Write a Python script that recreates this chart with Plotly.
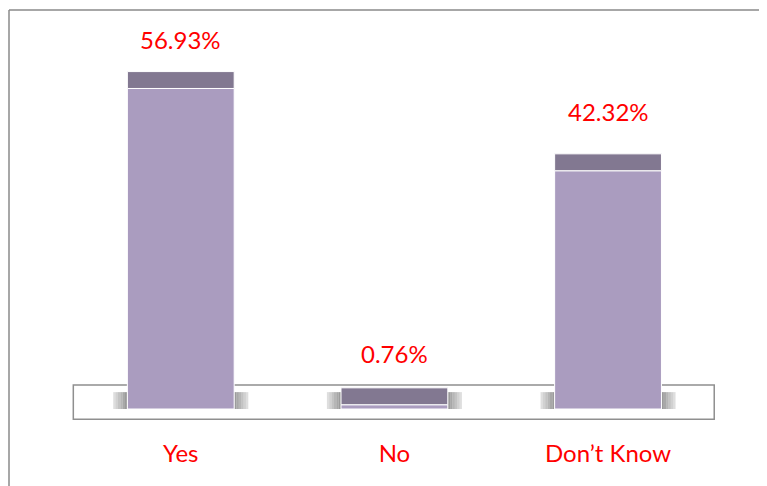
import plotly.graph_objects as go

categories = ["Yes", "No", "Don’t Know"]
values = [56.93, 0.76, 42.32]
labels = ["56.93%", "0.76%", "42.32%"]

CAP = 3.0          # depth of the 3D top face, in axis units
BODY = "#AA9CBF"
TOP = "#827891"
RED = "#FF0000"
FONT = "Lato"

xs = list(range(len(categories)))
W = 0.5

fig = go.Figure()
fig.add_trace(go.Bar(x=xs, y=values, width=W, marker=dict(color=BODY, line=dict(color="white", width=1)),
                     hoverinfo="skip"))
fig.add_trace(go.Bar(x=xs, y=[CAP] * len(values), base=values, width=W,
                     marker=dict(color=TOP, line=dict(color="white", width=1)), hoverinfo="skip"))

shapes = []
# floor
shapes.append(dict(type="rect", xref="x", yref="y", x0=-0.503, x1=2.497, y0=-1.83, y1=4.26,
                   line=dict(color="#8f8f8f", width=1.5), fillcolor="white", layer="below"))
# shadows beside bars (gradient strips)
n = 6
sw = 0.066
for i in xs:
    for k in range(n):
        op = 0.15 + 0.6 * (k + 1) / n
        x0 = i - W / 2 - sw + k * sw / n
        shapes.append(dict(type="rect", xref="x", yref="y", x0=x0, x1=x0 + sw / n, y0=0, y1=3.0,
                           line=dict(width=0), fillcolor="#7a7a7a", opacity=op, layer="below"))
        x1 = i + W / 2 + sw - k * sw / n
        shapes.append(dict(type="rect", xref="x", yref="y", x0=x1 - sw / n, x1=x1, y0=0, y1=3.0,
                           line=dict(width=0), fillcolor="#7a7a7a", opacity=op, layer="below"))
# outer frame (top and left)
shapes.append(dict(type="line", xref="paper", yref="paper", x0=0, x1=1.02, y0=1, y1=1,
                   line=dict(color="#8a8a8a", width=1.5)))
shapes.append(dict(type="line", xref="paper", yref="paper", x0=0, x1=0, y0=-0.2, y1=1,
                   line=dict(color="#8a8a8a", width=1.5)))

yshifts = [32, 34, 42]
annotations = []
for i, (v, t) in enumerate(zip(values, labels)):
    annotations.append(dict(x=i, y=v + CAP, text=t, showarrow=False, xref="x", yref="y",
                            yanchor="middle", yshift=yshifts[i],
                            font=dict(family=FONT, size=24, color=RED)))

fig.update_layout(
    width=759, height=478,
    margin=dict(l=1, r=0, t=2, b=56),
    paper_bgcolor="white", plot_bgcolor="white",
    barmode="overlay", showlegend=False,
    shapes=shapes, annotations=annotations,
    xaxis=dict(range=[-0.804, 2.744], tickvals=xs, ticktext=categories, showgrid=False,
               zeroline=False, showline=False, ticks="", ticklabelstandoff=7,
               tickfont=dict(family=FONT, size=24, color=RED)),
    yaxis=dict(range=[-3.73, 70.87], visible=False, showgrid=False, zeroline=False),
)

fig.write_html("out.html")
